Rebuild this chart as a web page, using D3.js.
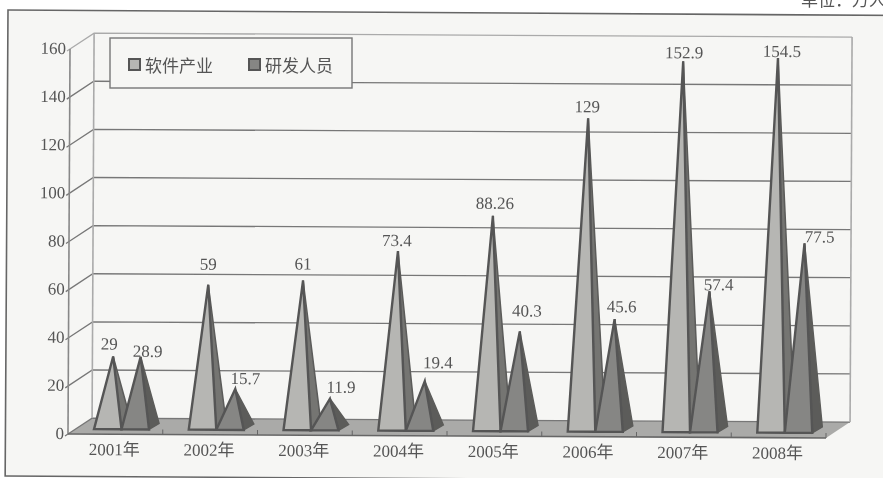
<!DOCTYPE html>
<html>
<head>
<meta charset="utf-8">
<script src="https://d3js.org/d3.v7.min.js"></script>
<style>
html, body { margin: 0; padding: 0; background: #fff; overflow: hidden; }
svg { display: block; }
text { font-family: "Liberation Serif", "Noto Sans CJK SC", serif; fill: #555; }
</style>
</head>
<body>
<div id="plot"></div>
<script>
var years = ["2001年", "2002年", "2003年", "2004年", "2005年", "2006年", "2007年", "2008年"];
var seriesNames = ["软件产业", "研发人员"];
var software = [29, 59, 61, 73.4, 88.26, 129, 152.9, 154.5];
var research = [28.9, 15.7, 11.9, 19.4, 40.3, 45.6, 57.4, 77.5];
var yTicks = [0, 20, 40, 60, 80, 100, 120, 140, 160];

// labels were placed by hand in the original, so each one gets a nudge from its apex
var softwareNudge = [[-4, -5], [0, -13], [0, -9], [-1, -3], [2, -5], [-1, -4], [1, -1], [4, 1]];
var researchNudge = [[7, 2], [10, -3], [11, -4], [13, -11], [7, -13], [7, -5], [9, 1], [15, 1]];

var view = { w: 883, h: 478, left: 68, right: 826, top: 49, bottom: 434, dx: 24, dy: -16 };

var frontCol = ["#b6b6b3", "#868684"],
    sideCol = ["#747472", "#5c5c5a"];

var svg = d3.select("#plot").append("svg")
    .attr("width", view.w)
    .attr("height", view.h);

// the scan is soft, take the edges off a bit
svg.append("filter").attr("id", "soft")
    .append("feGaussianBlur").attr("stdDeviation", 0.45);

var page = svg.append("g").attr("filter", "url(#soft)");

page.append("rect").attr("width", view.w).attr("height", view.h).style("fill", "#fff");
page.append("rect")
    .attr("x", 8).attr("y", 10)
    .attr("width", 900).attr("height", 466)
    .attr("transform", "rotate(0.35 8 10)")
    .style("fill", "#f6f6f4").style("stroke", "#666").style("stroke-width", 1.6);

page.append("text")
    .attr("x", 801).attr("y", 6)
    .style("font-size", "17px")
    .text("单位：万人");

// whole scan sits slightly crooked
var g = page.append("g").attr("transform", "rotate(0.3 68 434)");

var xScale = d3.scaleBand().domain(years).range([view.left, view.right]);
var yScale = d3.scaleLinear().domain([0, 160]).range([view.bottom, view.top]);
var inner = d3.scaleBand().domain([0, 1]).range([0, 55]);

// floor
g.append("polygon")
    .attr("points", [
        [view.left, view.bottom],
        [view.right, view.bottom],
        [view.right + view.dx, view.bottom + view.dy],
        [view.left + view.dx, view.bottom + view.dy]
    ].join(" "))
    .style("fill", "#aaaaa8");

// gridlines with their left wall part
yTicks.forEach(function(t) {
    var y = yScale(t);
    g.append("polyline")
        .attr("points", [
            [view.left - 3, y + 2],
            [view.left, y],
            [view.left + view.dx, y + view.dy],
            [view.right + view.dx, y + view.dy]
        ].join(" "))
        .style("fill", "none")
        .style("stroke", t == 160 ? "#aaa" : "#777")
        .style("stroke-width", 1.3);
    g.append("text")
        .attr("x", view.left - 4)
        .attr("y", y + 5)
        .attr("text-anchor", "end")
        .style("font-size", "17px")
        .text(t);
});

// walls
g.append("line")
    .attr("x1", view.left + view.dx).attr("x2", view.left + view.dx)
    .attr("y1", yScale(160) + view.dy).attr("y2", yScale(0) + view.dy)
    .style("stroke", "#aaa").style("stroke-width", 1.6);
g.append("line")
    .attr("x1", view.right + view.dx).attr("x2", view.right + view.dx)
    .attr("y1", yScale(160) + view.dy).attr("y2", yScale(0) + view.dy)
    .style("stroke", "#aaa").style("stroke-width", 1.6);
g.append("line")
    .attr("x1", view.left).attr("x2", view.left)
    .attr("y1", yScale(160)).attr("y2", yScale(0))
    .style("stroke", "#888").style("stroke-width", 1.6);

// front axis
g.append("line")
    .attr("x1", view.left).attr("x2", view.right)
    .attr("y1", view.bottom).attr("y2", view.bottom)
    .style("stroke", "#666").style("stroke-width", 1.6);
xScale.domain().forEach(function(d) {
    g.append("line")
        .attr("x1", xScale(d) + xScale.step()).attr("x2", xScale(d) + xScale.step())
        .attr("y1", view.bottom).attr("y2", view.bottom - 5)
        .style("stroke", "#666");
    g.append("text")
        .attr("x", xScale(d) + xScale.step() / 2 - 1)
        .attr("y", view.bottom + 21)
        .attr("text-anchor", "middle")
        .style("font-size", "17px")
        .text(d);
});

// pyramids
var depthX = 10, depthY = -6, baseInset = 5;
function pyramid(d, i, s, v, nudge) {
    var x0 = xScale(d) + 26 + inner(s),
        x1 = x0 + inner.bandwidth(),
        yb = view.bottom - baseInset,
        apex = [(x0 + x1) / 2 + depthX / 2, yScale(v) - 8];
    var bar = g.append("g");
    bar.append("polygon")
        .attr("points", [[x1, yb], [x1 + depthX, yb + depthY], apex].join(" "))
        .style("fill", sideCol[s]).style("stroke", "#5c5c5a").style("stroke-width", 1.5);
    bar.append("polygon")
        .attr("points", [[x0, yb], [x1, yb], apex].join(" "))
        .style("fill", frontCol[s]).style("stroke", "#555").style("stroke-width", 2.4);
    return { x: apex[0] + nudge[0], y: apex[1] - 2 + nudge[1], v: v };
}

var labels = [];
years.forEach(function(d, i) {
    labels.push(pyramid(d, i, 0, software[i], softwareNudge[i]));
    labels.push(pyramid(d, i, 1, research[i], researchNudge[i]));
});

// labels go on last so no later pyramid covers one
g.selectAll(".lbl")
    .data(labels)
    .enter().append("text")
    .attr("class", "lbl")
    .attr("x", function(d) { return d.x; })
    .attr("y", function(d) { return d.y; })
    .attr("text-anchor", "middle")
    .style("font-size", "17px")
    .text(function(d) { return d.v; });

// legend
var legend = page.append("g");
legend.append("rect")
    .attr("x", 110).attr("y", 38)
    .attr("width", 242).attr("height", 50)
    .style("fill", "#f6f6f4").style("stroke", "#777").style("stroke-width", 1.4);
seriesNames.forEach(function(name, i) {
    var lx = 129 + i * 120;
    legend.append("rect")
        .attr("x", lx).attr("y", 59)
        .attr("width", 11).attr("height", 11)
        .style("fill", frontCol[i]).style("stroke", "#555").style("stroke-width", 2);
    legend.append("text")
        .attr("x", lx + 16).attr("y", 72)
        .style("font-size", "17px")
        .text(name);
});
</script>
</body>
</html>
